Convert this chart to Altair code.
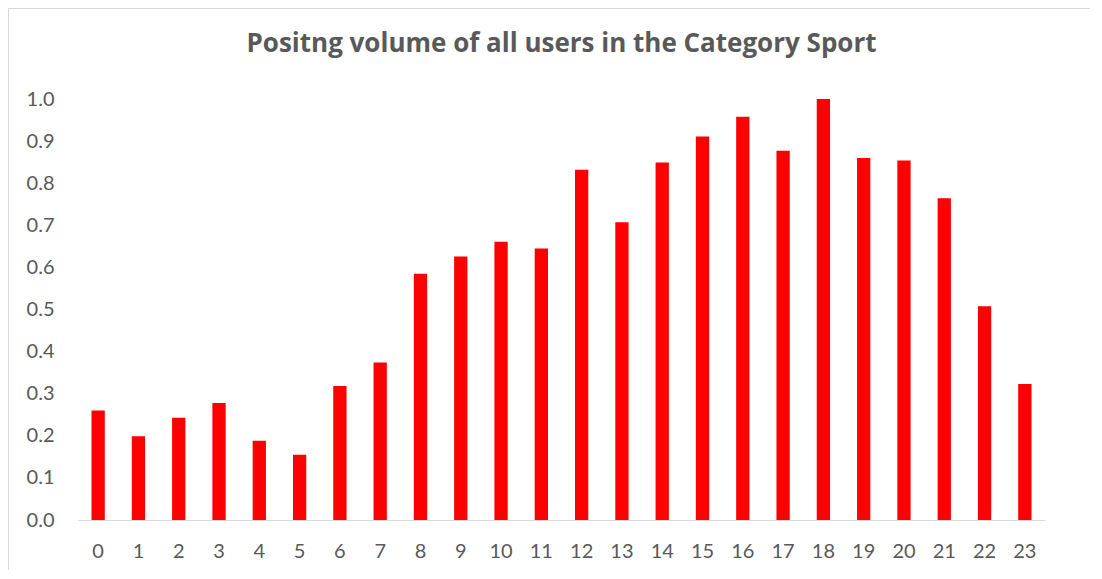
import altair as alt
import pandas as pd

hours = [str(h) for h in range(24)]
volume = [0.260, 0.199, 0.243, 0.278, 0.188, 0.155, 0.318, 0.374,
          0.585, 0.626, 0.661, 0.645, 0.832, 0.707, 0.849, 0.911,
          0.958, 0.877, 1.000, 0.860, 0.854, 0.764, 0.508, 0.323]
y_ticks = [0.0, 0.1, 0.2, 0.3, 0.4, 0.5, 0.6, 0.7, 0.8, 0.9, 1.0]
title_text = "Positng volume of all users in the Category Sport"

df = pd.DataFrame({"hour": hours, "volume": volume})

W, H = 967, 421
PAD = {"left": 70, "top": 91, "right": 45, "bottom": 50}
GRAY = "#595959"
FONT = "Lato"

bars = alt.Chart(df).mark_bar(color="#FF0000").encode(
    x=alt.X("hour:N", sort=hours,
            scale=alt.Scale(paddingInner=0.67, paddingOuter=0.335),
            axis=alt.Axis(title=None, labelAngle=0, ticks=False,
                          domainColor="#D9D9D9", domainWidth=1.2,
                          labelPadding=21, labelFontSize=20,
                          labelColor=GRAY, labelFont=FONT)),
    y=alt.Y("volume:Q", scale=alt.Scale(domain=[0, 1], nice=False),
            axis=alt.Axis(title=None, values=y_ticks, format=".1f",
                          domain=False, ticks=False, grid=False,
                          labelPadding=24, labelFontSize=20,
                          labelColor=GRAY, labelFont=FONT)),
)

frame = pd.DataFrame({"k": [0]})
top_border = alt.Chart(frame).mark_rule(color="#D9D9D9", strokeWidth=2, clip=False).encode(
    x=alt.value(-PAD["left"]), x2=alt.value(W + PAD["right"]), y=alt.value(-PAD["top"]))
left_border = alt.Chart(frame).mark_rule(color="#D9D9D9", strokeWidth=2, clip=False).encode(
    x=alt.value(-PAD["left"]), y=alt.value(-PAD["top"]), y2=alt.value(H + PAD["bottom"]))

chart = alt.layer(bars, top_border, left_border).properties(
    width=W, height=H,
    title=alt.Title(title_text, fontSize=26, fontWeight="bold", color=GRAY,
                    font="Open Sans", anchor="middle", offset=0,
                    baseline="alphabetic", dy=71),
    autosize=alt.AutoSizeParams(type="none"),
    padding=PAD,
).configure(background="white").configure_view(strokeWidth=0, stroke="transparent")

chart.save("out.html", embed_options={"renderer": "svg", "actions": False})
